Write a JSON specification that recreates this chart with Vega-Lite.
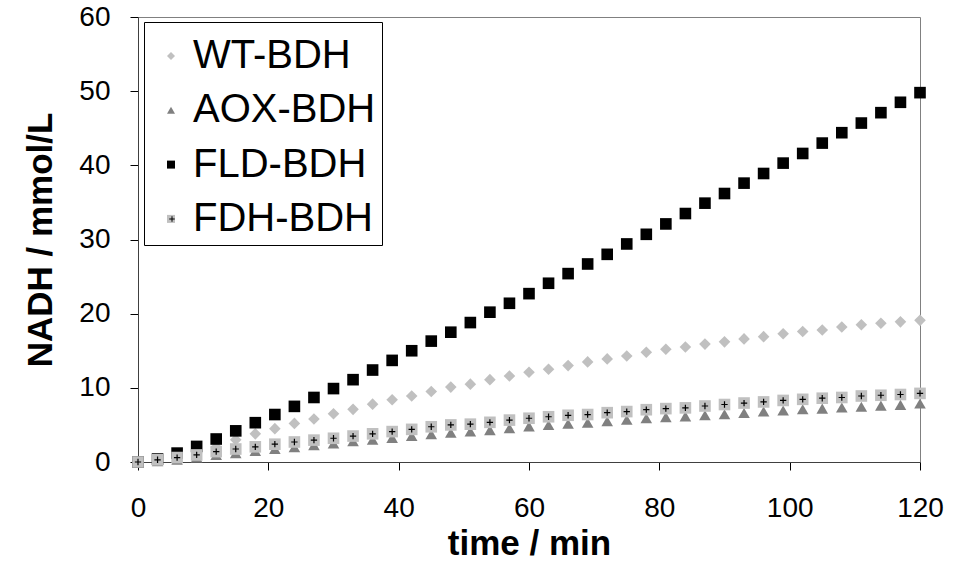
{
  "$schema": "https://vega.github.io/schema/vega-lite/v6.json",
  "width": 782,
  "height": 445,
  "autosize": {"type": "none"},
  "padding": {"left": 138, "top": 17, "right": 40, "bottom": 101},
  "background": "white",
  "config": {
    "font": "Liberation Sans",
    "view": {"stroke": "#808080", "strokeWidth": 1},
    "axis": {"grid": false, "labelFlush": false, "domainColor": "#404040", "tickColor": "#000000", "tickSize": 8, "labelColor": "#000000", "titleColor": "#000000", "labelFont": "Liberation Sans", "titleFont": "Liberation Sans"}
  },
  "data": {"values": [
    {"t":0,"series":"WT-BDH","v":0},{"t":3,"series":"WT-BDH","v":0.2},{"t":6,"series":"WT-BDH","v":0.6},{"t":9,"series":"WT-BDH","v":1.2},{"t":12,"series":"WT-BDH","v":2.0},{"t":15,"series":"WT-BDH","v":3.0},{"t":18,"series":"WT-BDH","v":3.8},{"t":21,"series":"WT-BDH","v":4.5},{"t":24,"series":"WT-BDH","v":5.2},{"t":27,"series":"WT-BDH","v":5.8},{"t":30,"series":"WT-BDH","v":6.5},{"t":33,"series":"WT-BDH","v":7.1},{"t":36,"series":"WT-BDH","v":7.8},{"t":39,"series":"WT-BDH","v":8.4},{"t":42,"series":"WT-BDH","v":8.9},{"t":45,"series":"WT-BDH","v":9.5},{"t":48,"series":"WT-BDH","v":10.1},{"t":51,"series":"WT-BDH","v":10.5},{"t":54,"series":"WT-BDH","v":11.1},{"t":57,"series":"WT-BDH","v":11.6},{"t":60,"series":"WT-BDH","v":12.1},{"t":63,"series":"WT-BDH","v":12.5},{"t":66,"series":"WT-BDH","v":13.0},{"t":69,"series":"WT-BDH","v":13.5},{"t":72,"series":"WT-BDH","v":13.9},{"t":75,"series":"WT-BDH","v":14.3},{"t":78,"series":"WT-BDH","v":14.8},{"t":81,"series":"WT-BDH","v":15.2},{"t":84,"series":"WT-BDH","v":15.5},{"t":87,"series":"WT-BDH","v":15.9},{"t":90,"series":"WT-BDH","v":16.2},{"t":93,"series":"WT-BDH","v":16.6},{"t":96,"series":"WT-BDH","v":16.9},{"t":99,"series":"WT-BDH","v":17.3},{"t":102,"series":"WT-BDH","v":17.6},{"t":105,"series":"WT-BDH","v":17.8},{"t":108,"series":"WT-BDH","v":18.2},{"t":111,"series":"WT-BDH","v":18.5},{"t":114,"series":"WT-BDH","v":18.7},{"t":117,"series":"WT-BDH","v":18.9},{"t":120,"series":"WT-BDH","v":19.1},
    {"t":0,"series":"AOX-BDH","v":0},{"t":3,"series":"AOX-BDH","v":0.1},{"t":6,"series":"AOX-BDH","v":0.3},{"t":9,"series":"AOX-BDH","v":0.6},{"t":12,"series":"AOX-BDH","v":0.95},{"t":15,"series":"AOX-BDH","v":1.2},{"t":18,"series":"AOX-BDH","v":1.5},{"t":21,"series":"AOX-BDH","v":1.75},{"t":24,"series":"AOX-BDH","v":2.0},{"t":27,"series":"AOX-BDH","v":2.25},{"t":30,"series":"AOX-BDH","v":2.5},{"t":33,"series":"AOX-BDH","v":2.8},{"t":36,"series":"AOX-BDH","v":3.0},{"t":39,"series":"AOX-BDH","v":3.25},{"t":42,"series":"AOX-BDH","v":3.5},{"t":45,"series":"AOX-BDH","v":3.75},{"t":48,"series":"AOX-BDH","v":3.95},{"t":51,"series":"AOX-BDH","v":4.1},{"t":54,"series":"AOX-BDH","v":4.3},{"t":57,"series":"AOX-BDH","v":4.55},{"t":60,"series":"AOX-BDH","v":4.8},{"t":63,"series":"AOX-BDH","v":5.0},{"t":66,"series":"AOX-BDH","v":5.15},{"t":69,"series":"AOX-BDH","v":5.3},{"t":72,"series":"AOX-BDH","v":5.5},{"t":75,"series":"AOX-BDH","v":5.7},{"t":78,"series":"AOX-BDH","v":5.9},{"t":81,"series":"AOX-BDH","v":6.05},{"t":84,"series":"AOX-BDH","v":6.15},{"t":87,"series":"AOX-BDH","v":6.3},{"t":90,"series":"AOX-BDH","v":6.45},{"t":93,"series":"AOX-BDH","v":6.6},{"t":96,"series":"AOX-BDH","v":6.8},{"t":99,"series":"AOX-BDH","v":6.95},{"t":102,"series":"AOX-BDH","v":7.1},{"t":105,"series":"AOX-BDH","v":7.2},{"t":108,"series":"AOX-BDH","v":7.35},{"t":111,"series":"AOX-BDH","v":7.45},{"t":114,"series":"AOX-BDH","v":7.6},{"t":117,"series":"AOX-BDH","v":7.7},{"t":120,"series":"AOX-BDH","v":7.9},
    {"t":0,"series":"FLD-BDH","v":0},{"t":3,"series":"FLD-BDH","v":0.4},{"t":6,"series":"FLD-BDH","v":1.2},{"t":9,"series":"FLD-BDH","v":2.1},{"t":12,"series":"FLD-BDH","v":3.1},{"t":15,"series":"FLD-BDH","v":4.2},{"t":18,"series":"FLD-BDH","v":5.3},{"t":21,"series":"FLD-BDH","v":6.4},{"t":24,"series":"FLD-BDH","v":7.5},{"t":27,"series":"FLD-BDH","v":8.7},{"t":30,"series":"FLD-BDH","v":9.9},{"t":33,"series":"FLD-BDH","v":11.1},{"t":36,"series":"FLD-BDH","v":12.4},{"t":39,"series":"FLD-BDH","v":13.7},{"t":42,"series":"FLD-BDH","v":15.0},{"t":45,"series":"FLD-BDH","v":16.3},{"t":48,"series":"FLD-BDH","v":17.5},{"t":51,"series":"FLD-BDH","v":18.8},{"t":54,"series":"FLD-BDH","v":20.2},{"t":57,"series":"FLD-BDH","v":21.4},{"t":60,"series":"FLD-BDH","v":22.7},{"t":63,"series":"FLD-BDH","v":24.1},{"t":66,"series":"FLD-BDH","v":25.4},{"t":69,"series":"FLD-BDH","v":26.7},{"t":72,"series":"FLD-BDH","v":28.0},{"t":75,"series":"FLD-BDH","v":29.4},{"t":78,"series":"FLD-BDH","v":30.7},{"t":81,"series":"FLD-BDH","v":32.1},{"t":84,"series":"FLD-BDH","v":33.5},{"t":87,"series":"FLD-BDH","v":34.9},{"t":90,"series":"FLD-BDH","v":36.2},{"t":93,"series":"FLD-BDH","v":37.6},{"t":96,"series":"FLD-BDH","v":38.9},{"t":99,"series":"FLD-BDH","v":40.3},{"t":102,"series":"FLD-BDH","v":41.6},{"t":105,"series":"FLD-BDH","v":43.0},{"t":108,"series":"FLD-BDH","v":44.4},{"t":111,"series":"FLD-BDH","v":45.7},{"t":114,"series":"FLD-BDH","v":47.1},{"t":117,"series":"FLD-BDH","v":48.5},{"t":120,"series":"FLD-BDH","v":49.8},
    {"t":0,"series":"FDH-BDH","v":0},{"t":3,"series":"FDH-BDH","v":0.3},{"t":6,"series":"FDH-BDH","v":0.6},{"t":9,"series":"FDH-BDH","v":0.95},{"t":12,"series":"FDH-BDH","v":1.4},{"t":15,"series":"FDH-BDH","v":1.75},{"t":18,"series":"FDH-BDH","v":2.05},{"t":21,"series":"FDH-BDH","v":2.4},{"t":24,"series":"FDH-BDH","v":2.7},{"t":27,"series":"FDH-BDH","v":2.95},{"t":30,"series":"FDH-BDH","v":3.2},{"t":33,"series":"FDH-BDH","v":3.5},{"t":36,"series":"FDH-BDH","v":3.8},{"t":39,"series":"FDH-BDH","v":4.1},{"t":42,"series":"FDH-BDH","v":4.4},{"t":45,"series":"FDH-BDH","v":4.75},{"t":48,"series":"FDH-BDH","v":5.0},{"t":51,"series":"FDH-BDH","v":5.1},{"t":54,"series":"FDH-BDH","v":5.35},{"t":57,"series":"FDH-BDH","v":5.65},{"t":60,"series":"FDH-BDH","v":5.9},{"t":63,"series":"FDH-BDH","v":6.1},{"t":66,"series":"FDH-BDH","v":6.3},{"t":69,"series":"FDH-BDH","v":6.4},{"t":72,"series":"FDH-BDH","v":6.65},{"t":75,"series":"FDH-BDH","v":6.8},{"t":78,"series":"FDH-BDH","v":7.05},{"t":81,"series":"FDH-BDH","v":7.2},{"t":84,"series":"FDH-BDH","v":7.3},{"t":87,"series":"FDH-BDH","v":7.55},{"t":90,"series":"FDH-BDH","v":7.75},{"t":93,"series":"FDH-BDH","v":7.95},{"t":96,"series":"FDH-BDH","v":8.1},{"t":99,"series":"FDH-BDH","v":8.3},{"t":102,"series":"FDH-BDH","v":8.45},{"t":105,"series":"FDH-BDH","v":8.6},{"t":108,"series":"FDH-BDH","v":8.7},{"t":111,"series":"FDH-BDH","v":8.9},{"t":114,"series":"FDH-BDH","v":9.0},{"t":117,"series":"FDH-BDH","v":9.1},{"t":120,"series":"FDH-BDH","v":9.25}
  ]},
  "encoding": {
    "x": {"field": "t", "type": "quantitative", "scale": {"domain": [0, 120], "nice": false},
      "axis": {"values": [0, 20, 40, 60, 80, 100, 120], "title": "time / min", "labelFontSize": 28, "labelPadding": 24, "titleFontSize": 35, "titleFontWeight": "bold", "titlePadding": 4}},
    "y": {"field": "v", "type": "quantitative", "scale": {"domain": [0, 60], "nice": false},
      "axis": {"values": [0, 10, 20, 30, 40, 50, 60], "title": "NADH / mmol/L", "labelFontSize": 28, "labelPadding": 20, "titleFontSize": 35, "titleFontWeight": "bold", "titlePadding": 20}}
  },
  "layer": [
    {
      "mark": {"type": "point", "filled": true, "opacity": 1, "strokeWidth": 0, "size": 135},
      "encoding": {
        "shape": {"field": "series", "type": "nominal",
          "scale": {"domain": ["WT-BDH", "AOX-BDH", "FLD-BDH", "FDH-BDH"], "range": ["diamond", "triangle-up", "square", "square"]},
          "legend": {"title": " ", "titleFontSize": 4, "titlePadding": 4, "orient": "none", "legendX": 6, "legendY": 5, "padding": 6, "symbolOffset": 1, "labelOffset": 2, "labelLimit": 0, "labelFontSize": 40, "labelFont": "Liberation Sans", "labelColor": "#000000", "rowPadding": 14.3, "symbolSize": 64, "strokeColor": "#000000", "fillColor": "#ffffff", "symbolStrokeWidth": 0}},
        "color": {"field": "series", "type": "nominal",
          "scale": {"domain": ["WT-BDH", "AOX-BDH", "FLD-BDH", "FDH-BDH"], "range": ["#c0c0c0", "#808080", "#000000", "#c0c0c0"]}}
      }
    },
    {
      "transform": [{"filter": "datum.series === 'FDH-BDH'"}],
      "mark": {"type": "point", "filled": false, "shape": "M-1,0H1M0,-1V1", "size": 40, "strokeWidth": 1.2, "opacity": 1},
      "encoding": {
        "stroke": {"field": "series", "type": "nominal",
          "scale": {"domain": ["FDH-BDH"], "range": ["#000000"]},
          "legend": {"title": null, "orient": "none", "legendX": 6, "legendY": 176, "padding": 6, "symbolOffset": 2, "labelOffset": 2, "labelLimit": 0, "labelFontSize": 40, "labelFont": "Liberation Sans", "labelOpacity": 0, "symbolType": "M-1,0H1M0,-1V1", "symbolSize": 30, "symbolStrokeWidth": 1, "symbolFillColor": "transparent", "strokeColor": "transparent"}}
      }
    }
  ]
}
